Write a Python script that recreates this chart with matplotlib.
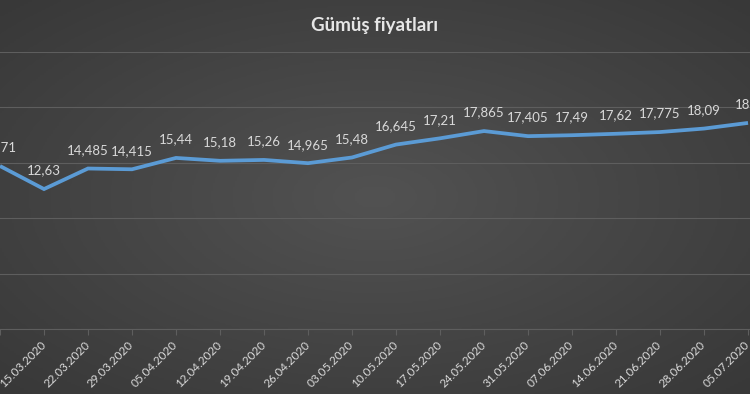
import numpy as np
import matplotlib
matplotlib.use('Agg')
import matplotlib.pyplot as plt
from matplotlib.colors import LinearSegmentedColormap

dates = [
    '08.03.2020', '15.03.2020', '22.03.2020', '29.03.2020', '05.04.2020',
    '12.04.2020', '19.04.2020', '26.04.2020', '03.05.2020', '10.05.2020',
    '17.05.2020', '24.05.2020', '31.05.2020', '07.06.2020', '14.06.2020',
    '21.06.2020', '28.06.2020', '05.07.2020',
]
prices = [
    14.71, 12.63, 14.485, 14.415, 15.44, 15.18, 15.26, 14.965, 15.48,
    16.645, 17.21, 17.865, 17.405, 17.49, 17.62, 17.775, 18.09, 18.6,
]
labels = [
    '14,71', '12,63', '14,485', '14,415', '15,44', '15,18', '15,26',
    '14,965', '15,48', '16,645', '17,21', '17,865', '17,405', '17,49',
    '17,62', '17,775', '18,09', '18,6',
]

text_color = '#d9d9d9'
line_color = '#5b9bd5'
grid_color = '#5e5e5e'

plt.rcParams['font.family'] = ['Lato', 'DejaVu Sans']

fig = plt.figure(figsize=(7.5, 3.94), dpi=100)

# radial gradient background
bg = fig.add_axes([0, 0, 1, 1], zorder=0)
yy, xx = np.mgrid[-1:1:200j, -1:1:380j]
r = np.sqrt(xx ** 2 + yy ** 2) / np.sqrt(2)
cmap = LinearSegmentedColormap.from_list('bg', ['#525252', '#383838'])
bg.imshow(r, cmap=cmap, aspect='auto', extent=[0, 1, 0, 1], vmin=0, vmax=1)
bg.set_axis_off()

bottom = (394 - 329) / 394
top = (394 - 52) / 394
ax = fig.add_axes([0, bottom, 1, top - bottom], zorder=1)
ax.patch.set_alpha(0)

x = np.arange(len(prices))
ax.plot(x, prices, color=line_color, lw=2.7, solid_joinstyle='miter',
        solid_capstyle='butt', zorder=3)
for xi, yi, lab in zip(x, prices, labels):
    ax.annotate(lab, (xi, yi), xytext=(0, 9), textcoords='offset points',
                ha='center', va='bottom', color=text_color, fontsize=9.5)

ax.set_xlim(8.5 / 44.5, (750 + 8.5) / 44.5)
ax.set_ylim(0, 25)
ax.set_yticks([0, 5, 10, 15, 20, 25])
ax.yaxis.grid(True, color=grid_color, lw=0.8)
ax.set_axisbelow(True)
ax.tick_params(axis='y', left=False, labelleft=False)

ax.set_xticks(x)
ax.set_xticklabels(dates, rotation=45, ha='right', va='center',
                   rotation_mode='anchor', color=text_color, fontsize=8.5)
ax.tick_params(axis='x', length=4, color=grid_color, pad=6)
for s in ['top', 'left', 'right']:
    ax.spines[s].set_visible(False)
ax.spines['bottom'].set_color(grid_color)
ax.spines['bottom'].set_linewidth(0.8)

fig.text(0.5, 1 - 25 / 394, 'Gümüş fiyatları', ha='center', va='center',
         color='#e6e6e6', fontsize=13.5, fontweight='bold')

fig.savefig('out.png', dpi=100)
